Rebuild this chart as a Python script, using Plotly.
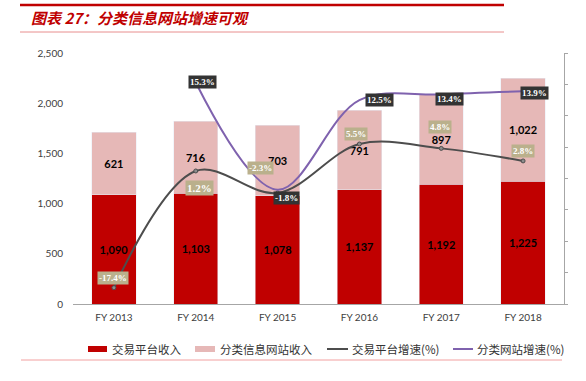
import plotly.graph_objects as go

years = ["FY 2013", "FY 2014", "FY 2015", "FY 2016", "FY 2017", "FY 2018"]
trade_rev = [1090, 1103, 1078, 1137, 1192, 1225]
class_rev = [621, 716, 703, 791, 897, 1022]
trade_growth = [-17.4, 1.2, -2.3, 5.5, 4.8, 2.8]
class_growth = [None, 15.3, -1.8, 12.5, 13.4, 13.9]

W, H = 586, 381
L, R, T, B = 73, 564, 53, 304


def px(x):
    return (x - L) / (R - L)


def py(y):
    return (B - y) / (B - T)


RED = "#C00000"
PINK = "#E6B8B7"
PURPLE = "#7F62AE"
BEIGE = "#BAB08C"
BOXDARK = "#333333"

fig = go.Figure()
fig.add_bar(x=years, y=trade_rev, name="交易平台收入", marker_color=RED,
            text=[f"{v:,}" for v in trade_rev], textposition="inside",
            insidetextanchor="middle",
            textfont=dict(family="Lato", size=11, color="#000000", weight="bold"),
            showlegend=False)
fig.add_bar(x=years, y=class_rev, name="分类信息网站收入", marker_color=PINK,
            text=[f"{v:,}" for v in class_rev], textposition="inside",
            insidetextanchor="middle",
            textfont=dict(family="Lato", size=11, color="#000000", weight="bold"),
            showlegend=False)
fig.add_scatter(x=years, y=trade_growth, yaxis="y2", mode="lines+markers",
                name="交易平台增速(%)",
                line=dict(color="#4D4D4D", width=2, shape="spline", smoothing=1.0),
                marker=dict(size=4, color="#8C8C8C", line=dict(color="#4D4D4D", width=1)),
                showlegend=False)
fig.add_scatter(x=years[1:], y=class_growth[1:], yaxis="y2", mode="lines",
                name="分类网站增速(%)",
                line=dict(color=PURPLE, width=2, shape="spline", smoothing=1.0),
                showlegend=False)

# growth labels (offsets in pixels relative to points)
trade_off = [(-1, 10), (4, -17), (-17, 25), (-3, 10), (-1, 21), (0, 10)]
trade_size = [9, 11, 9, 9, 9, 9]
class_off = [None, (7, 0), (9, -8), (20, 0), (8, -5), (11, -2)]
ann = []
for i, v in enumerate(trade_growth):
    dx, dy = trade_off[i]
    ann.append(dict(x=years[i], y=v, xref="x", yref="y2", text=f"<b>{v:.1f}%</b>",
                    showarrow=False, xshift=dx, yshift=dy, bgcolor=BEIGE,
                    borderpad=1,
                    font=dict(family="Liberation Serif", size=trade_size[i],
                              color="#FFFFFF")))
for i, v in enumerate(class_growth):
    if v is None:
        continue
    dx, dy = class_off[i]
    ann.append(dict(x=years[i], y=v, xref="x", yref="y2", text=f"<b>{v:.1f}%</b>",
                    showarrow=False, xshift=dx, yshift=dy, bgcolor=BOXDARK,
                    borderpad=1,
                    font=dict(family="Liberation Serif", size=9, color="#FFFFFF")))

# title
ann.append(dict(x=px(29), y=py(18), xref="paper", yref="paper", xanchor="left",
                yanchor="middle", showarrow=False,
                text="<b><i>图表 27：分类信息网站增速可观</i></b>",
                font=dict(family="Noto Sans CJK SC", size=15, color=RED)))

shapes = [
    dict(type="line", xref="paper", yref="paper", x0=px(20), x1=px(504),
         y0=py(5), y1=py(5), line=dict(color=RED, width=2.5)),
    dict(type="line", xref="paper", yref="paper", x0=px(20), x1=px(504),
         y0=py(32), y1=py(32), line=dict(color="#E88E8E", width=1)),
    dict(type="line", xref="paper", yref="paper", x0=px(21), x1=px(562),
         y0=py(360), y1=py(360), line=dict(color="#F2A0A0", width=1)),
]

# custom legend
leg_y = 349
legend_items = [
    ("rect", RED, 88, 107, "交易平台收入", 110),
    ("rect", PINK, 195, 215, "分类信息网站收入", 218),
    ("line", "#4D4D4D", 327, 348, "交易平台增速(%)", 350),
    ("line", PURPLE, 453, 473, "分类网站增速(%)", 475),
]
for kind, col, x0, x1, label, tx in legend_items:
    if kind == "rect":
        shapes.append(dict(type="rect", xref="paper", yref="paper",
                           x0=px(x0), x1=px(x1), y0=py(leg_y + 3), y1=py(leg_y - 3),
                           fillcolor=col, line=dict(width=0)))
    else:
        shapes.append(dict(type="line", xref="paper", yref="paper",
                           x0=px(x0), x1=px(x1), y0=py(leg_y), y1=py(leg_y),
                           line=dict(color=col, width=2)))
    ann.append(dict(x=px(tx), y=py(leg_y), xref="paper", yref="paper",
                    xanchor="left", yanchor="middle", showarrow=False, text=label,
                    font=dict(family="Noto Sans CJK SC", size=11.5, color="#333333")))

fig.update_layout(
    width=W, height=H,
    margin=dict(l=L, r=W - R, t=T, b=H - B, pad=0),
    paper_bgcolor="white", plot_bgcolor="white",
    barmode="stack", bargap=0.46,
    showlegend=False,
    annotations=ann, shapes=shapes,
    xaxis=dict(showline=True, linecolor="#A6A6A6", linewidth=1, ticks="",
               tickfont=dict(family="Lato", size=10, color="#404040"),
               ticklabelstandoff=4, showgrid=False, zeroline=False),
    yaxis=dict(range=[0, 2500], dtick=500, tickformat=",", showgrid=False,
               zeroline=False, showline=False, ticks="",
               tickfont=dict(family="Lato", size=10, color="#404040"),
               ticklabelstandoff=9),
    yaxis2=dict(range=[-20, 20], dtick=5, overlaying="y", side="right",
                showgrid=False, zeroline=False, showline=True,
                linecolor="#A6A6A6", linewidth=1, ticks="outside", ticklen=3,
                tickcolor="#A6A6A6", showticklabels=False),
)

fig.write_html("out.html", config={"displayModeBar": False},
               post_script="document.body.style.margin='0';document.body.style.overflow='hidden';")
